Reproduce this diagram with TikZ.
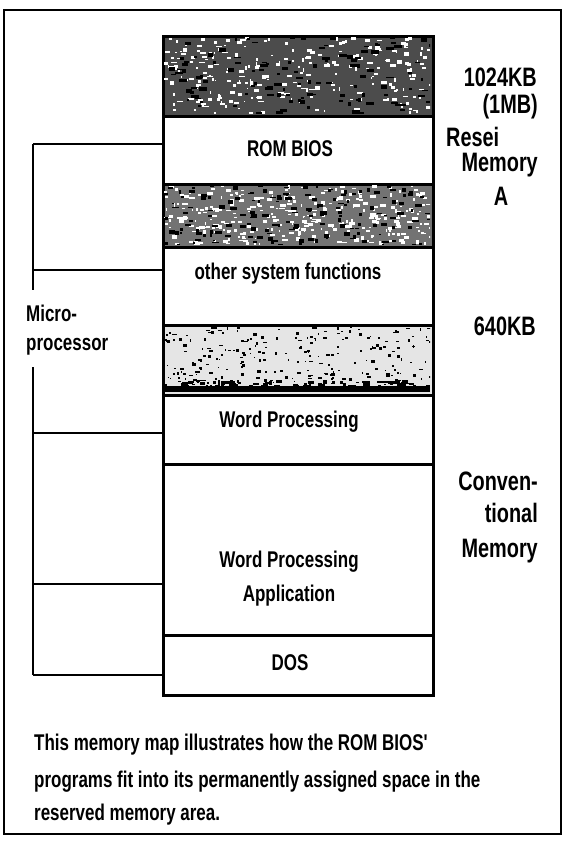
\documentclass[tikz,border=0pt]{standalone}
\usepackage{fontspec}
\setmainfont{Liberation Sans}
\newcommand{\tallt}[1]{\scalebox{0.97}[1.3]{#1}}
\newcommand{\straightq}{{\XeTeXglyph\the\XeTeXcharglyph"27\relax}}
\begin{document}
\begin{tikzpicture}[x=1pt,y=-1pt,
  blk/.style={draw=black, line width=2.6pt, rectangle, inner sep=0pt, minimum width=270pt, anchor=north west},
  lbl/.style={font=\fontsize{17.5}{20}\selectfont\bfseries, inner sep=0pt},
  rlbl/.style={font=\fontsize{20.5}{24}\selectfont\bfseries, inner sep=0pt},
  brk/.style={line width=2.4pt},
  speckw/.style={fill=white},
  speckb/.style={fill=black}]
\useasboundingbox (0,0) rectangle (564,844);
\pgfmathsetseed{4242}
\node[draw=black, line width=2.2pt, inner sep=0pt, minimum width=557pt, minimum height=824pt, anchor=north west] (frame) at (3,9) {};
% memory column
\node[blk, minimum height=80pt, fill=black!70] (dark1) at (162,35) {};
\node[blk, minimum height=68pt] (rom) at (162,115) {};
\node[blk, minimum height=63pt, fill=black!55] (dark2) at (162,183) {};
\node[blk, minimum height=78pt] (other) at (162,246) {};
\node[blk, minimum height=70pt, fill=black!10] (dark3) at (162,324) {};
\node[blk, minimum height=69pt] (wp) at (162,394) {};
\node[blk, minimum height=171pt] (wpa) at (162,463) {};
\node[blk, minimum height=60pt] (dos) at (162,634) {};
% speckle textures of the shaded blocks
\begin{scope}
  \clip (164,37) rectangle (430,113);
  \foreach \i in {1,...,260}{
    \fill[speckw] ({164+266*rnd},{37+76*rnd}) rectangle ++({1+5*rnd},{1+2.5*rnd});}
  \foreach \i in {1,...,120}{
    \fill[speckb] ({164+266*rnd},{37+76*rnd}) rectangle ++({2+6*rnd},{1+3*rnd});}
\end{scope}
\begin{scope}
  \clip (164,185) rectangle (430,244);
  \foreach \i in {1,...,320}{
    \fill[speckw] ({164+266*rnd},{185+59*rnd}) rectangle ++({1+5*rnd},{1+2.5*rnd});}
  \foreach \i in {1,...,160}{
    \fill[speckb] ({164+266*rnd},{185+59*rnd}) rectangle ++({2+5*rnd},{1+3*rnd});}
\end{scope}
\begin{scope}
  \clip (164,326) rectangle (430,392);
  \foreach \i in {1,...,260}{
    \fill[speckb] ({164+266*rnd},{326+62*rnd}) rectangle ++({1+3*rnd},{1+2*rnd});}
  \fill[black] (164,386) rectangle (430,392);
  \foreach \i in {1,...,60}{
    \fill[speckb] ({164+266*rnd},{380+6*rnd}) rectangle ++({2+5*rnd},{1+3*rnd});}
\end{scope}
% block texts
\node[lbl] (tROM) at (290,149) {\tallt{ROM BIOS}};
\node[lbl] (tOther) at (288,274) {\tallt{other system functions}};
\node[lbl] (tWP) at (289,422) {\tallt{Word Processing}};
\node[lbl] (tWPA1) at (289,562) {\tallt{Word Processing}};
\node[lbl] (tWPA2) at (289,596) {\tallt{Application}};
\node[lbl] (tDOS) at (290,663) {\tallt{DOS}};
% bracket
\coordinate (b1) at (33,144);
\coordinate (b2) at (33,270);
\coordinate (b3) at (33,433);
\coordinate (b4) at (33,584);
\coordinate (b5) at (33,675);
\coordinate (g1) at (33,290);
\coordinate (g2) at (33,367);
\draw[brk] (b1) -- (b1 -| rom.west);
\draw[brk] (b2) -- (b2 -| other.west);
\draw[brk] (b3) -- (b3 -| wp.west);
\draw[brk] (b4) -- (b4 -| wpa.west);
\draw[brk] (b5) -- (b5 -| dos.west);
\draw[brk] (b1) -- (g1);
\draw[brk] (g2) -- (b5);
\node[lbl, anchor=west] (micro) at (26,313) {\tallt{Micro-}};
\node[lbl, anchor=west] (proc) at (26,347) {\tallt{processor}};
% right labels
\node[rlbl, anchor=east] (k1024) at (537,77) {\tallt{1024KB}};
\node[rlbl, anchor=east] (mb) at (538,107) {\tallt{(1MB)}};
\node[rlbl, anchor=west] (resei) at (446,137) {\tallt{Resei}};
\node[rlbl, anchor=east] (mem1) at (538,165) {\tallt{Memory}};
\node[rlbl] (areaA) at (501,196) {\tallt{A}};
\node[rlbl, anchor=east] (k640) at (536,326) {\tallt{640KB}};
\node[rlbl, anchor=east] (conv) at (538,481) {\tallt{Conven-}};
\node[rlbl, anchor=east] (tional) at (538,513) {\tallt{tional}};
\node[rlbl, anchor=east] (mem2) at (538,551) {\tallt{Memory}};
% caption
\node[lbl, anchor=west] (cap1) at (34,745) {\tallt{This memory map illustrates how the ROM BIOS\straightq}};
\node[lbl, anchor=west] (cap2) at (34,782) {\tallt{programs fit into its permanently assigned space in the}};
\node[lbl, anchor=west] (cap3) at (34,815) {\tallt{reserved memory area.}};
\end{tikzpicture}
\end{document}
